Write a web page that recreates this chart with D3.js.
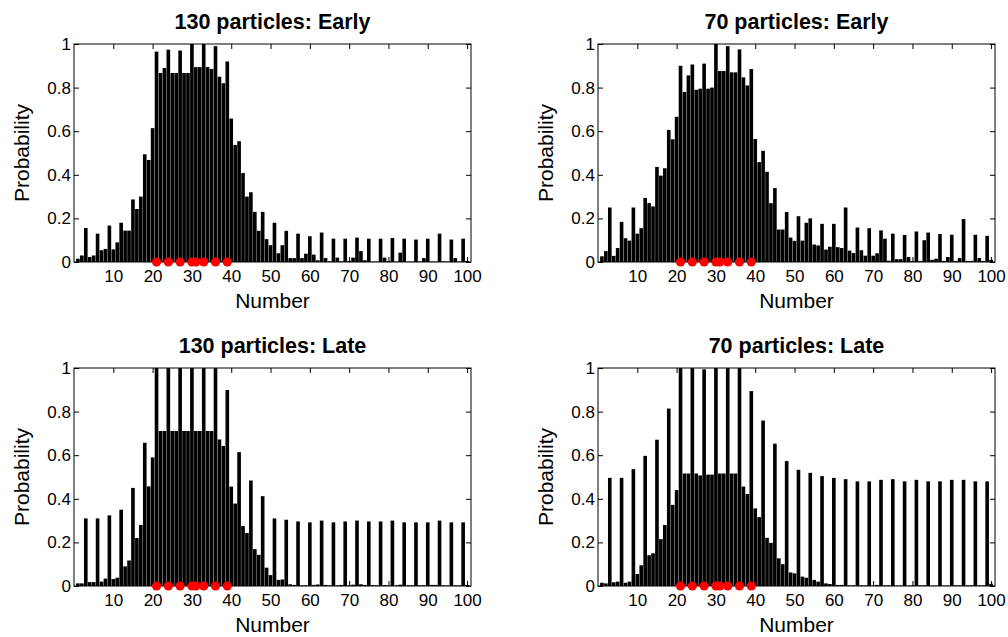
<!DOCTYPE html>
<html>
<head>
<meta charset="utf-8">
<script src="https://cdn.jsdelivr.net/npm/d3@7"></script>
<style>
  body { margin: 0; background: #fff; }
  text { font-family: 'Liberation Sans', Arial, Helvetica, sans-serif; fill: #000; }
</style>
</head>
<body>
<div id="chart"></div>
<script>
// bins 1..100, probability per bin
let numbers = d3.range(1, 101)

let early130 = [
  0.015, 0.03, 0.156, 0.023, 0.03, 0.13, 0.054, 0.06, 0.167, 0.058,
  0.09, 0.18, 0.144, 0.144, 0.287, 0.243, 0.30, 0.494, 0.468, 0.614,
  0.965, 0.867, 0.89, 0.974, 0.867, 0.867, 0.97, 0.867, 0.867, 1.0,
  0.894, 0.894, 1.0, 0.894, 0.885, 0.99, 0.85, 0.82, 0.92, 0.658,
  0.537, 0.554, 0.408, 0.30, 0.32, 0.23, 0.143, 0.23, 0.105, 0.077,
  0.18, 0.04, 0.077, 0.143, 0.018, 0.018, 0.13, 0.018, 0.038, 0.118,
  0.034, 0.008, 0.135, 0.018, 0.003, 0.107, 0.02, 0.003, 0.107, 0.005,
  0.02, 0.112, 0.05, 0.008, 0.107, 0.002, 0.002, 0.107, 0.02, 0.005,
  0.11, 0.002, 0.043, 0.107, 0.002, 0.002, 0.103, 0.002, 0.018, 0.107,
  0.002, 0.002, 0.13, 0.003, 0.002, 0.103, 0.018, 0.002, 0.107, 0.005
]

let early70 = [
  0.026, 0.05, 0.25, 0.028, 0.064, 0.184, 0.109, 0.098, 0.25, 0.13,
  0.155, 0.294, 0.27, 0.255, 0.436, 0.396, 0.43, 0.606, 0.563, 0.666,
  0.90, 0.78, 0.856, 0.906, 0.79, 0.795, 0.91, 0.795, 0.80, 1.0,
  0.876, 0.876, 0.99, 0.87, 0.87, 0.975, 0.847, 0.81, 0.885, 0.564,
  0.458, 0.51, 0.414, 0.27, 0.339, 0.149, 0.149, 0.229, 0.112, 0.097,
  0.21, 0.098, 0.18, 0.20, 0.08, 0.076, 0.175, 0.057, 0.07, 0.175,
  0.068, 0.064, 0.25, 0.052, 0.041, 0.158, 0.054, 0.029, 0.155, 0.029,
  0.04, 0.145, 0.107, 0.006, 0.13, 0.013, 0.013, 0.124, 0.023, 0.005,
  0.14, 0.005, 0.1, 0.135, 0.01, 0.015, 0.128, 0.005, 0.023, 0.125,
  0.005, 0.018, 0.197, 0.005, 0.005, 0.125, 0.018, 0.005, 0.12, 0.01
]

let late130 = [
  0.012, 0.012, 0.31, 0.018, 0.018, 0.31, 0.02, 0.034, 0.324, 0.032,
  0.038, 0.35, 0.09, 0.117, 0.45, 0.22, 0.28, 0.657, 0.457, 0.59,
  1.0, 0.711, 0.711, 1.0, 0.711, 0.711, 1.0, 0.711, 0.711, 1.0,
  0.711, 0.711, 1.0, 0.711, 0.711, 1.0, 0.672, 0.642, 0.899, 0.456,
  0.378, 0.614, 0.275, 0.243, 0.484, 0.169, 0.143, 0.412, 0.084, 0.05,
  0.31, 0.028, 0.03, 0.304, 0.008, 0.005, 0.296, 0.003, 0.003, 0.292,
  0.005, 0.007, 0.30, 0.005, 0.003, 0.292, 0.003, 0.005, 0.296, 0.003,
  0.006, 0.30, 0.008, 0.005, 0.296, 0.004, 0.003, 0.296, 0.004, 0.003,
  0.30, 0.003, 0.006, 0.292, 0.003, 0.003, 0.292, 0.003, 0.003, 0.292,
  0.005, 0.005, 0.30, 0.003, 0.002, 0.292, 0.003, 0.003, 0.292, 0.005
]

let late70 = [
  0.015, 0.012, 0.496, 0.017, 0.02, 0.496, 0.015, 0.02, 0.536, 0.055,
  0.095, 0.597, 0.141, 0.15, 0.671, 0.215, 0.28, 0.814, 0.372, 0.44,
  1.0, 0.516, 0.516, 1.0, 0.516, 0.507, 0.994, 0.511, 0.511, 1.0,
  0.516, 0.516, 1.0, 0.516, 0.516, 1.0, 0.456, 0.422, 0.894, 0.356,
  0.316, 0.759, 0.221, 0.198, 0.653, 0.127, 0.10, 0.573, 0.062, 0.058,
  0.533, 0.043, 0.038, 0.519, 0.028, 0.02, 0.504, 0.012, 0.009, 0.496,
  0.005, 0.005, 0.49, 0.003, 0.003, 0.48, 0.003, 0.003, 0.48, 0.003,
  0.005, 0.487, 0.003, 0.003, 0.49, 0.002, 0.002, 0.48, 0.002, 0.003,
  0.487, 0.003, 0.003, 0.48, 0.002, 0.002, 0.48, 0.002, 0.002, 0.487,
  0.003, 0.003, 0.487, 0.003, 0.003, 0.48, 0.003, 0.003, 0.48, 0.01
]

let markers = [21, 24, 27, 30, 31, 33, 36, 39]
let titles = ['130 particles: Early', '70 particles: Early', '130 particles: Late', '70 particles: Late']
let xTicks = d3.range(10, 101, 10)
let yTicks = [0, 0.2, 0.4, 0.6, 0.8, 1]

let width = 397
let height = 218

let svg = d3
  .select('#chart')
  .append('svg')
  .attr('width', 1008)
  .attr('height', 637)

let panels = [
  { title: titles[0], values: early130, left: 74, top: 44 },
  { title: titles[1], values: early70, left: 598, top: 44 },
  { title: titles[2], values: late130, left: 74, top: 368 },
  { title: titles[3], values: late70, left: 598, top: 368 }
]

let x = d3.scaleLinear().domain([0, 101]).range([0, width])
let y = d3.scaleLinear().domain([0, 1]).range([height, 0])
let step = x(1) - x(0)

panels.forEach(p => {
  let g = svg
    .append('g')
    .attr('transform', 'translate(' + p.left + ',' + p.top + ')')

  g.append('g')
    .selectAll('.bar')
    .data(numbers)
    .enter()
    .append('rect')
    .attr('class', 'bar')
    .attr('x', d => x(d) - step / 2 + 0.15)
    .attr('width', step - 0.3)
    .attr('y', (d, i) => y(p.values[i]))
    .attr('height', (d, i) => height - y(p.values[i]))
    .attr('fill', '#000')

  // inward ticks on all four sides, labels only bottom/left
  let bottom = g
    .append('g')
    .attr('transform', 'translate(0,' + height + ')')
    .call(d3.axisBottom(x).tickValues(xTicks).tickSizeInner(-5).tickSizeOuter(0).tickPadding(8))
  let top = g
    .append('g')
    .call(d3.axisTop(x).tickValues(xTicks).tickSizeInner(-5).tickSizeOuter(0).tickFormat(''))
  let left = g
    .append('g')
    .call(
      d3.axisLeft(y)
        .tickValues(yTicks)
        .tickSizeInner(-5)
        .tickSizeOuter(0)
        .tickPadding(3)
        .tickFormat(d => (d === 0 || d === 1 ? String(d) : d.toFixed(1)))
    )
  let right = g
    .append('g')
    .attr('transform', 'translate(' + width + ',0)')
    .call(d3.axisRight(y).tickValues(yTicks).tickSizeInner(-5).tickSizeOuter(0).tickFormat(''))

  ;[bottom, top, left, right].forEach(a => {
    a.select('.domain').remove()
    a.selectAll('line').attr('stroke', '#000')
    a.selectAll('text').attr('font-size', 17).attr('fill', '#000')
  })

  g.append('rect')
    .attr('width', width)
    .attr('height', height)
    .attr('fill', 'none')
    .attr('stroke', '#000')
    .attr('stroke-width', 1)

  g.append('g')
    .selectAll('.marker')
    .data(markers)
    .enter()
    .append('circle')
    .attr('class', 'marker')
    .attr('cx', d => x(d))
    .attr('cy', height)
    .attr('r', 4.6)
    .attr('fill', '#ff0000')

  g.append('text')
    .text(p.title)
    .attr('x', width / 2)
    .attr('y', -15)
    .attr('text-anchor', 'middle')
    .attr('font-size', 21.5)
    .attr('font-weight', 'bold')

  g.append('text')
    .text('Number')
    .attr('x', width / 2)
    .attr('y', height + 46)
    .attr('text-anchor', 'middle')
    .attr('font-size', 21)

  g.append('text')
    .text('Probability')
    .attr('transform', 'translate(-45,' + height / 2 + ') rotate(-90)')
    .attr('text-anchor', 'middle')
    .attr('font-size', 21)
})
</script>
</body>
</html>
